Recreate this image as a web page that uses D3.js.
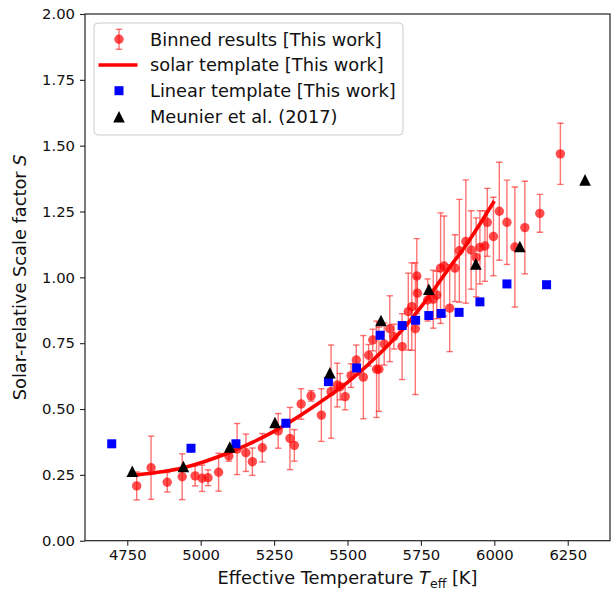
<!DOCTYPE html>
<html>
<head>
<meta charset="utf-8">
<script src="https://cdn.jsdelivr.net/npm/d3@7"></script>
<style>
  html, body { margin: 0; padding: 0; background: #fff; }
  svg { display: block; font-family: "DejaVu Sans", sans-serif; }
</style>
</head>
<body>
<svg id="chart" width="611" height="589"></svg>
<script>
// Binned scale factors (this work): temperature [K], S, 1-sigma error
const binTeff = [4782, 4831, 4886, 4937, 4981, 5005, 5025, 5061, 5096, 5124, 5154, 5176, 5210, 5264, 5304, 5319,
  5342, 5376, 5411, 5444, 5465, 5475, 5492, 5512, 5530, 5554, 5572, 5586, 5599, 5607, 5625, 5644, 5658, 5686,
  5707, 5719, 5731, 5736, 5738, 5773, 5792, 5804, 5817, 5829, 5848, 5866, 5881, 5903, 5921, 5938, 5951, 5968,
  5976, 5997, 6017, 6043, 6070, 6104, 6155, 6225];
const binS = [0.208, 0.277, 0.222, 0.243, 0.246, 0.237, 0.239, 0.260, 0.322, 0.348, 0.334, 0.300, 0.353, 0.417, 0.388, 0.362,
  0.519, 0.550, 0.477, 0.566, 0.591, 0.585, 0.547, 0.627, 0.686, 0.621, 0.704, 0.762, 0.651, 0.651, 0.747, 0.805, 0.775, 0.737,
  0.870, 0.889, 0.805, 1.005, 0.940, 0.914, 0.917, 0.933, 1.035, 1.043, 0.883, 1.035, 1.101, 1.136, 1.104, 1.076, 1.114, 1.119,
  1.209, 1.155, 1.251, 1.209, 1.115, 1.189, 1.243, 1.469];
const binErr = [0.053, 0.120, 0.037, 0.087, 0.038, 0.050, 0.030, 0.072, 0.020, 0.097, 0.071, 0.052, 0.054, 0.066, 0.118, 0.060,
  0.058, 0.020, 0.100, 0.177, 0.083, 0.050, 0.050, 0.045, 0.057, 0.158, 0.041, 0.041, 0.183, 0.160, 0.080, 0.125, 0.047, 0.125,
  0.146, 0.166, 0.250, 0.142, 0.060, 0.080, 0.110, 0.090, 0.210, 0.190, 0.165, 0.127, 0.195, 0.234, 0.149, 0.150, 0.139, 0.134,
  0.129, 0.149, 0.186, 0.160, 0.228, 0.176, 0.072, 0.116];

// Solar template curve (this work)
const solarTeff = [4782, 4941, 5099, 5253, 5384, 5497, 5611, 5686, 5777, 5849, 5892, 6000];
const solarS    = [0.250, 0.277, 0.336, 0.417, 0.509, 0.598, 0.712, 0.800, 0.927, 1.040, 1.104, 1.290];

// Linear template (this work)
const linTeff = [4697, 4967, 5120, 5290, 5435, 5531, 5611, 5686, 5732, 5777, 5819, 5880, 5951, 6043, 6178];
const linS    = [0.368, 0.351, 0.368, 0.446, 0.604, 0.656, 0.780, 0.817, 0.837, 0.855, 0.863, 0.867, 0.907, 0.975, 0.972];

// Meunier et al. (2017)
const meuTeff = [4767, 4941, 5099, 5253, 5440, 5614, 5777, 5937, 6087, 6309];
const meuS    = [0.264, 0.282, 0.356, 0.449, 0.638, 0.836, 0.955, 1.051, 1.117, 1.370];

// Axis ticks
const xTicks = [4750, 5000, 5250, 5500, 5750, 6000, 6250];
const yTicks = [0, 0.25, 0.5, 0.75, 1.0, 1.25, 1.5, 1.75, 2.0];

const legendLabels = ["Binned results [This work]", "solar template [This work]",
  "Linear template [This work]", "Meunier et al. (2017)"];

const plot = { left: 85, right: 610, top: 14, bottom: 540.7 };
const svg = d3.select("#chart");

const x = d3.scaleLinear().domain([4606, 6394]).range([plot.left, plot.right]);
const y = d3.scaleLinear().domain([0, 2]).range([plot.bottom, plot.top]);

const tickFont = 14.8, labelFont = 17.8;

svg.append("defs").append("clipPath").attr("id", "plotclip")
  .append("rect").attr("x", plot.left).attr("y", plot.top)
  .attr("width", plot.right - plot.left).attr("height", plot.bottom - plot.top);

const layer = svg.append("g").attr("clip-path", "url(#plotclip)");

// Error bars with caps
const bins = binTeff.map((t, i) => ({ t, s: binS[i], e: binErr[i] }));
const eb = layer.append("g").attr("stroke", "#ff0000").attr("stroke-opacity", 0.55).attr("stroke-width", 1.4);
eb.selectAll("line.bar").data(bins).join("line").attr("class", "bar")
  .attr("x1", d => x(d.t)).attr("x2", d => x(d.t))
  .attr("y1", d => y(d.s - d.e)).attr("y2", d => y(d.s + d.e));
eb.selectAll("line.capHi").data(bins).join("line").attr("class", "capHi")
  .attr("x1", d => x(d.t) - 3.2).attr("x2", d => x(d.t) + 3.2)
  .attr("y1", d => y(d.s + d.e)).attr("y2", d => y(d.s + d.e));
eb.selectAll("line.capLo").data(bins).join("line").attr("class", "capLo")
  .attr("x1", d => x(d.t) - 3.2).attr("x2", d => x(d.t) + 3.2)
  .attr("y1", d => y(d.s - d.e)).attr("y2", d => y(d.s - d.e));
layer.append("g").selectAll("circle").data(bins).join("circle")
  .attr("cx", d => x(d.t)).attr("cy", d => y(d.s)).attr("r", 4.7)
  .attr("fill", "#ff0000").attr("fill-opacity", 0.7);

// Solar template line
const solar = solarTeff.map((t, i) => ({ t, s: solarS[i] }));
layer.append("path").datum(solar)
  .attr("d", d3.line().x(d => x(d.t)).y(d => y(d.s)).curve(d3.curveMonotoneX))
  .attr("fill", "none").attr("stroke", "#ff0000").attr("stroke-width", 3.6);

// Linear template squares
const lin = linTeff.map((t, i) => ({ t, s: linS[i] }));
layer.append("g").selectAll("rect").data(lin).join("rect")
  .attr("x", d => x(d.t) - 4.5).attr("y", d => y(d.s) - 4.5)
  .attr("width", 9).attr("height", 9).attr("fill", "#0000ff");

// Meunier triangles
const tri = h => `M0,${-h}L${h},${h}L${-h},${h}Z`;
const meu = meuTeff.map((t, i) => ({ t, s: meuS[i] }));
layer.append("g").selectAll("path").data(meu).join("path")
  .attr("transform", d => `translate(${x(d.t)},${y(d.s)})`)
  .attr("d", tri(5.8)).attr("fill", "#000");

// Axes frame
svg.append("rect").attr("x", plot.left).attr("y", plot.top)
  .attr("width", plot.right - plot.left).attr("height", plot.bottom - plot.top)
  .attr("fill", "none").attr("stroke", "#222").attr("stroke-width", 1.2);

const xAxis = svg.append("g").attr("transform", `translate(0,${plot.bottom})`)
  .call(d3.axisBottom(x).tickValues(xTicks).tickFormat(d3.format("d")).tickSize(5).tickPadding(4));
const yAxis = svg.append("g").attr("transform", `translate(${plot.left},0)`)
  .call(d3.axisLeft(y).tickValues(yTicks).tickFormat(d3.format(".2f")).tickSize(5).tickPadding(5));
[xAxis, yAxis].forEach(a => {
  a.select(".domain").remove();
  a.selectAll(".tick line").attr("stroke", "#222").attr("stroke-width", 1.1);
  a.selectAll(".tick text").attr("fill", "#111").attr("font-size", tickFont)
    .attr("font-family", "DejaVu Sans");
});

// Axis titles
const xt = svg.append("text").attr("x", (plot.left + plot.right) / 2).attr("y", 584)
  .attr("text-anchor", "middle").attr("font-size", labelFont).attr("fill", "#111");
xt.append("tspan").text("Effective Temperature ");
xt.append("tspan").attr("font-style", "italic").text("T");
xt.append("tspan").attr("font-size", 12.5).attr("dy", 3.5).text("eff");
xt.append("tspan").attr("dy", -3.5).text(" [K]");

const yt = svg.append("text")
  .attr("transform", `translate(26,${(plot.top + plot.bottom) / 2}) rotate(-90)`)
  .attr("text-anchor", "middle").attr("font-size", labelFont).attr("fill", "#111");
yt.append("tspan").text("Solar-relative Scale factor ");
yt.append("tspan").attr("font-style", "italic").text("S");

// Legend
const lg = svg.append("g");
lg.append("rect").attr("x", 94).attr("y", 23).attr("width", 309).attr("height", 112)
  .attr("rx", 4).attr("fill", "#fff").attr("fill-opacity", 0.8)
  .attr("stroke", "#cccccc").attr("stroke-width", 1);
const rowY = [39.3, 65, 90.7, 116.7];
const mx = 119;
lg.selectAll("text").data(legendLabels).join("text")
  .attr("x", 150).attr("y", (d, i) => rowY[i] + 6.4)
  .attr("font-size", labelFont).attr("fill", "#111").text(d => d);
// entry 1: errorbar marker
const e1 = lg.append("g").attr("stroke", "#ff0000").attr("stroke-opacity", 0.55).attr("stroke-width", 1.4);
e1.append("line").attr("x1", mx).attr("x2", mx).attr("y1", rowY[0] - 10).attr("y2", rowY[0] + 10);
e1.append("line").attr("x1", mx - 3.2).attr("x2", mx + 3.2).attr("y1", rowY[0] - 10).attr("y2", rowY[0] - 10);
e1.append("line").attr("x1", mx - 3.2).attr("x2", mx + 3.2).attr("y1", rowY[0] + 10).attr("y2", rowY[0] + 10);
lg.append("circle").attr("cx", mx).attr("cy", rowY[0]).attr("r", 4.7)
  .attr("fill", "#ff0000").attr("fill-opacity", 0.7);
// entry 2: line
lg.append("line").attr("x1", 98.5).attr("x2", 137.5).attr("y1", rowY[1]).attr("y2", rowY[1])
  .attr("stroke", "#ff0000").attr("stroke-width", 3.6);
// entry 3: square
lg.append("rect").attr("x", mx - 4.5).attr("y", rowY[2] - 4.5).attr("width", 9).attr("height", 9)
  .attr("fill", "#0000ff");
// entry 4: triangle
lg.append("path").attr("transform", `translate(${mx},${rowY[3]})`).attr("d", tri(5.8)).attr("fill", "#000");
</script>
</body>
</html>
